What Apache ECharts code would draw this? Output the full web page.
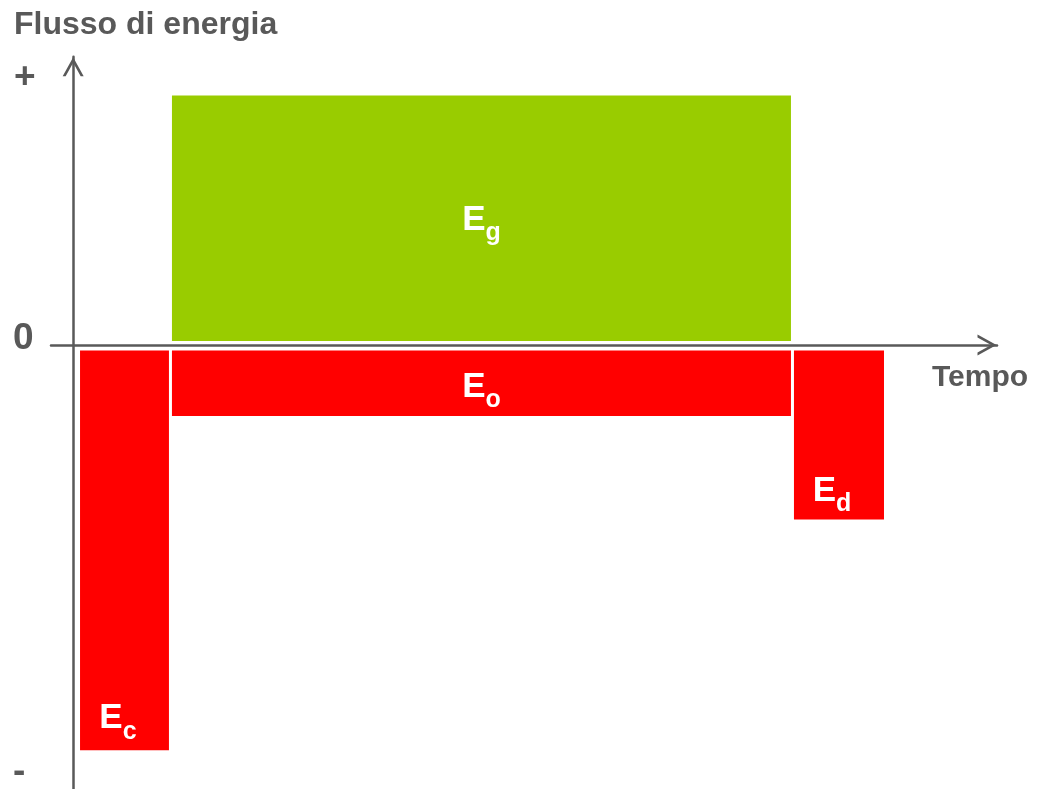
<!DOCTYPE html>
<html>
<head>
<meta charset="utf-8">
<title>Flusso di energia</title>
<script src="https://cdn.jsdelivr.net/npm/echarts@6/dist/echarts.min.js"></script>
<style>
  html, body { margin: 0; padding: 0; background: #ffffff; }
  #chart { width: 1038px; height: 789px; }
</style>
</head>
<body>
<div id="chart"></div>
<script>
// Energy blocks: time span on the x axis, energy flow on the y axis
const blockNames = ['Ec', 'Eg', 'Eo', 'Ed'];
const subscripts = ['c', 'g', 'o', 'd'];
const startTime = [0.58, 10.53, 10.53, 77.86];
const endTime = [10.53, 77.86, 77.86, 87.93];
const energyFlow = [-162.5, 100, -28.5, -70];

const axisTitleY = 'Flusso di energia';
const axisTitleX = 'Tempo';
const signLabels = ['+', '0', '-'];

const GREEN = '#99cc00';
const RED = '#ff0000';
const GREY = '#595959';
const FONT = '"Liberation Sans", Arial, Helvetica, sans-serif';

// where each block puts its label
const labelLayout = {
  Ec: { position: 'insideBottom', distance: 14, offset: [-6.5, 0] },
  Eg: { position: 'inside', distance: 0, offset: [0, 2] },
  Eo: { position: 'inside', distance: 0, offset: [0, 4] },
  Ed: { position: 'insideBottom', distance: 11, offset: [-7, 0] }
};

// open chevron arrow head, tip pointing up
const chevron = 'path://M10.5,0 L21,19 L18.03,19 L10.5,5.38 L2.97,19 L0,19 Z';

const chart = echarts.init(document.getElementById('chart'), null, { renderer: 'canvas' });

const axisLine = {
  show: true,
  onZero: true,
  symbol: ['none', chevron],
  symbolSize: [21, 20],
  symbolOffset: [0, -10],
  lineStyle: { color: GREY, width: 2.5 }
};

chart.setOption({
  animation: false,
  backgroundColor: '#ffffff',
  grid: { left: 51, right: 41, top: 56.75, height: 733.75 },
  xAxis: {
    type: 'value',
    min: -2.4,
    max: 100,
    axisLine: axisLine,
    axisTick: { show: false },
    axisLabel: { show: false },
    splitLine: { show: false }
  },
  yAxis: {
    type: 'value',
    min: -178,
    max: 115.5,
    axisLine: axisLine,
    axisTick: { show: false },
    axisLabel: { show: false },
    splitLine: { show: false }
  },
  graphic: [
    { type: 'text', style: { x: 14, y: 25.5, text: axisTitleY, fill: GREY,
      font: 'bold 32px ' + FONT, verticalAlign: 'middle' } },
    { type: 'text', style: { x: 932, y: 377.5, text: axisTitleX, fill: GREY,
      font: 'bold 30px ' + FONT, verticalAlign: 'middle' } },
    { type: 'text', style: { x: 14, y: 77.5, text: signLabels[0], fill: GREY,
      font: 'bold 37px ' + FONT, verticalAlign: 'middle' } },
    { type: 'text', style: { x: 13, y: 338.5, text: signLabels[1], fill: GREY,
      font: 'bold 37px ' + FONT, verticalAlign: 'middle' } },
    { type: 'text', style: { x: 13, y: 771.5, text: signLabels[2], fill: GREY,
      font: 'bold 37px ' + FONT, verticalAlign: 'middle' } }
  ],
  series: [{
    type: 'custom',
    coordinateSystem: 'cartesian2d',
    encode: { x: [0, 1], y: 2 },
    data: blockNames.map((n, i) => [startTime[i], endTime[i], energyFlow[i]]),
    renderItem: function (params, api) {
      const i = params.dataIndex;
      const v = api.value(2);
      const a = api.coord([api.value(0), 0]);
      const b = api.coord([api.value(1), v]);
      const gapX = 1.5;
      const yStart = v >= 0 ? a[1] - 4 : a[1] + 5.5;
      const left = a[0] + gapX;
      const right = b[0] - gapX;
      const top = Math.min(yStart, b[1]);
      const bottom = Math.max(yStart, b[1]);
      const lay = labelLayout[blockNames[i]];
      return {
        type: 'rect',
        shape: { x: left, y: top, width: right - left, height: bottom - top },
        style: { fill: v >= 0 ? GREEN : RED },
        textContent: {
          style: {
            text: '{e|E}{s|' + subscripts[i] + '}',
            fill: '#ffffff',
            rich: {
              e: { fontFamily: FONT, fontWeight: 'bold', fontSize: 35, lineHeight: 35,
                   verticalAlign: 'top', fill: '#ffffff' },
              s: { fontFamily: FONT, fontWeight: 'bold', fontSize: 25, lineHeight: 25,
                   padding: [18, 0, 0, 0], verticalAlign: 'top', fill: '#ffffff' }
            }
          }
        },
        textConfig: { position: lay.position, distance: lay.distance, offset: lay.offset }
      };
    }
  }]
});
</script>
</body>
</html>
